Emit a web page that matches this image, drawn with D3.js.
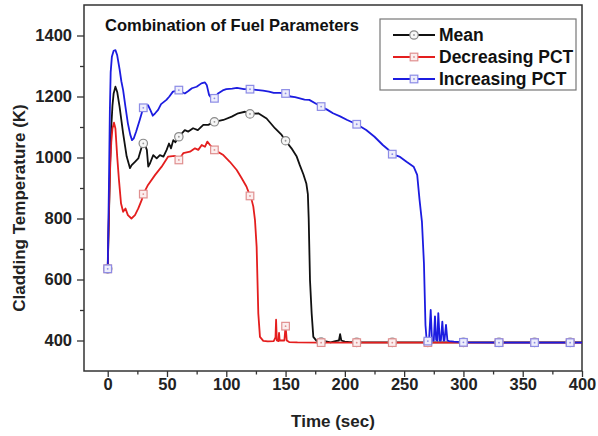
<!DOCTYPE html>
<html><head><meta charset="utf-8">
<script src="https://cdn.jsdelivr.net/npm/d3@7"></script>
<style>
body{margin:0;background:#fff;}
svg{font-family:"Liberation Sans",Arial,sans-serif;font-weight:bold;}
</style></head>
<body><svg id="c" width="598" height="436"></svg>
<script>
// ---- data (time sec, cladding temperature K) ----
const seriesNames = ["Mean", "Decreasing PCT", "Increasing PCT"];
const meanData = [[0,635],[1,800],[2,980],[3,1100],[4,1170],[5,1210],[6.5,1232],[8,1215],[10,1167],[13,1079],[16,1003],[18.8,965],[20.2,975],[23,986],[25.8,997],[28.7,1035],[30,1046],[31,1046],[33,1025],[34.2,970],[35.7,981],[38.4,1008],[41.3,997],[44,1008],[47,1003],[49.7,1025],[51.7,1046],[53.4,1030],[55.3,1057],[57,1050],[60,1068],[65,1090],[68,1085],[72,1096],[76,1090],[80.6,1107],[84.8,1107],[90,1117],[97.5,1123],[104.6,1134],[110,1145],[115.8,1150],[120,1143],[127,1145],[134,1128],[141,1096],[146.7,1074],[150,1055],[155,1030],[159.4,1003],[162,975],[165,945],[167.5,915],[168.8,880],[169.5,800],[170.6,598],[172,489],[173.4,412],[176.3,398],[180,395],[184,397],[188,394],[192,398],[195,400],[196,421],[197,400],[200,396],[204,395],[210,394],[240,394],[270,394],[300,394],[330,394],[360,394],[390,394],[400,394]];
const decData = [[0,635],[1,820],[2,960],[3,1050],[4,1095],[5.3,1114],[6.5,1095],[8,1003],[9.5,926],[11.2,850],[13,822],[15,833],[17,811],[20,800],[23,811],[25.8,833],[28.7,861],[30,880],[34,910],[40,943],[45.5,970],[51,1003],[56.7,1005],[60,992],[63.7,1014],[69.4,1019],[73.6,1030],[76.4,1025],[79.3,1041],[82,1035],[84,1052],[86.3,1041],[90,1025],[97.5,1008],[103,986],[108.8,959],[113,932],[117,905],[120,874],[121.4,861],[122.8,839],[124.2,795],[125.6,707],[127,489],[128.4,412],[131.2,399],[135,397],[140,398],[141.5,410],[142,468],[142.6,400],[144,398],[144.5,425],[145,400],[149,400],[150,447],[151,400],[153,395],[160,394],[180,393],[210,393],[240,393],[270,393],[300,393],[330,393],[360,393],[390,393],[400,393]];
const incData = [[0,635],[1,900],[1.8,1150],[2.5,1280],[3.5,1330],[5,1350],[6.5,1352],[8,1335],[10,1290],[11.5,1250],[13,1221],[15,1165],[17,1112],[19,1075],[20.5,1057],[22,1063],[24,1085],[27,1123],[30,1163],[32,1170],[34,1172],[36,1155],[38,1137],[40,1145],[42.5,1156],[45,1175],[49.5,1189],[52,1200],[55,1216],[57,1218],[60,1221],[63,1214],[65,1210],[68,1218],[71,1227],[75,1232],[79,1243],[82,1246],[83.5,1238],[85.5,1205],[87.5,1194],[90,1194],[93,1210],[97,1220],[100,1224],[105,1226],[109,1228],[115,1224],[120,1224],[125,1222],[131,1219],[136,1216],[140,1212],[145,1212],[150,1210],[154,1200],[158,1198],[162,1194],[166,1190],[170,1189],[175,1178],[180,1167],[185,1157],[190,1145],[196,1135],[202,1123],[210,1109],[218,1090],[225,1068],[232,1041],[236,1028],[240,1011],[246,1003],[252,986],[258,970],[261,943],[263,861],[265,790],[266.7,653],[268,450],[269,400],[270,398],[271,400],[272.4,500],[273.5,398],[275,400],[276,479],[277,402],[278,400],[278.8,490],[280,400],[281,400],[282.2,462],[283.3,400],[284,400],[285.3,451],[286.5,400],[288,398],[292,396],[300,394],[330,393],[360,393],[390,393],[400,393]];
const xTicks = [0,50,100,150,200,250,300,350,400];
const xMinor = [25,75,125,175,225,275,325,375];
const yTicks = [400,600,800,1000,1200,1400];
const yMinor = [500,700,900,1100,1300];
const markerEvery = 30;

const svg = d3.select("#c");
const x = d3.scaleLinear().domain([-20,400]).range([84,582]);
const y = d3.scaleLinear().domain([300,1500]).range([371,5]);

// frame
svg.append("rect").attr("x",84).attr("y",5).attr("width",498).attr("height",366)
  .attr("fill","none").attr("stroke","#333").attr("stroke-width",1.5);

// axes
function styleAxis(g){ g.select(".domain").remove(); g.selectAll("line").attr("stroke","#333").attr("stroke-width",1.3); g.selectAll("text").attr("fill","#222").style("font-size","16.5px").style("font-weight","bold").style("font-family","'Liberation Sans',Arial,sans-serif"); }
svg.append("g").attr("transform","translate(0,371)")
  .call(d3.axisBottom(x).tickValues(xTicks).tickSize(6).tickPadding(1).tickFormat(d3.format("d"))).call(styleAxis);
svg.append("g").attr("transform","translate(0,371)")
  .call(d3.axisBottom(x).tickValues(xMinor).tickSize(3.5).tickFormat("")).call(styleAxis);
svg.append("g").attr("transform","translate(84,0)")
  .call(d3.axisLeft(y).tickValues(yTicks).tickSize(7).tickPadding(5).tickFormat(d3.format("d"))).call(styleAxis);
svg.append("g").attr("transform","translate(84,0)")
  .call(d3.axisLeft(y).tickValues(yMinor).tickSize(4).tickFormat("")).call(styleAxis);

// axis titles
svg.append("text").attr("x",333).attr("y",427).attr("text-anchor","middle")
  .style("font-size","17px").attr("fill","#222").text("Time (sec)");
svg.append("text").attr("transform","translate(25,208) rotate(-90)").attr("text-anchor","middle")
  .style("font-size","17px").attr("fill","#222").text("Cladding Temperature (K)");

// title
svg.append("text").attr("x",105).attr("y",31).style("font-size","16.5px").attr("fill","#111")
  .text("Combination of Fuel Parameters");

const styles = [
  {data:meanData, color:"#111111", shape:"circle", mStroke:"#8a8a8a", mFill:"#f6f6f6", dot:"#999"},
  {data:decData, color:"#e41e1e", shape:"square", mStroke:"#e09090", mFill:"#fbeeee", dot:"#e09090"},
  {data:incData, color:"#1c1ce0", shape:"square", mStroke:"#8c8ce6", mFill:"#eeeefb", dot:"#8c8ce6"}
];
const line = d3.line().x(d=>x(d[0])).y(d=>y(d[1]));
const plot = svg.append("g");

function drawMarker(g, s, cx, cy){
  if(s.shape==="circle"){
    g.append("circle").attr("cx",cx).attr("cy",cy).attr("r",4.2)
      .attr("fill",s.mFill).attr("stroke",s.mStroke).attr("stroke-width",1.2);
  } else {
    g.append("rect").attr("x",cx-3.8).attr("y",cy-3.8).attr("width",7.6).attr("height",7.6)
      .attr("fill",s.mFill).attr("stroke",s.mStroke).attr("stroke-width",1.2);
  }
  g.append("circle").attr("cx",cx).attr("cy",cy).attr("r",0.9).attr("fill",s.dot);
}

styles.forEach(s=>{
  plot.append("path").datum(s.data).attr("d",line).attr("fill","none")
    .attr("stroke",s.color).attr("stroke-width",1.8).attr("stroke-linejoin","round");
});
styles.forEach(s=>{
  const mg = plot.append("g");
  s.data.filter(d=>d[0]%markerEvery===0 && d[0]<400).forEach(d=>drawMarker(mg,s,x(d[0]),y(d[1])));
});

// legend
const lg = svg.append("g");
lg.append("rect").attr("x",380).attr("y",19).attr("width",196).attr("height",71)
  .attr("fill","#fff").attr("stroke","#777").attr("stroke-width",1.2);
styles.forEach((s,i)=>{
  const yy = 35 + i*22;
  lg.append("line").attr("x1",393).attr("x2",435).attr("y1",yy).attr("y2",yy)
    .attr("stroke",s.color).attr("stroke-width",1.8);
  drawMarker(lg,s,414,yy);
  lg.append("text").attr("x",439).attr("y",yy+6).style("font-size","17.5px").attr("fill","#111").text(seriesNames[i]);
});
</script></body></html>
